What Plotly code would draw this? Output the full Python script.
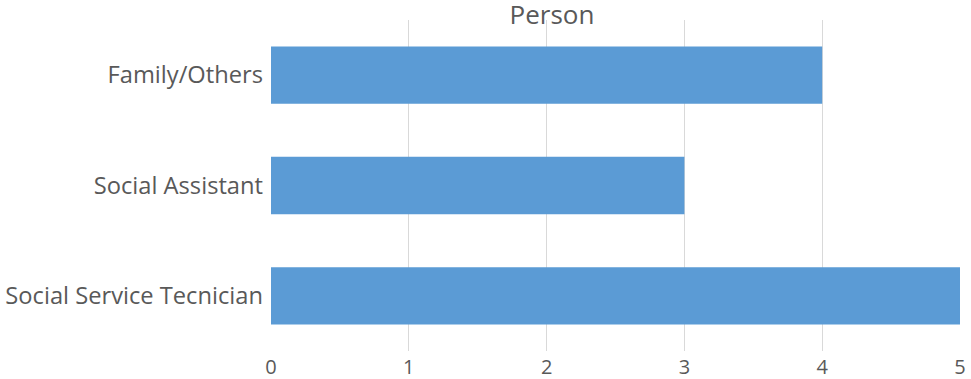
import plotly.graph_objects as go

categories = ["Social Service Tecnician", "Social Assistant", "Family/Others"]
values = [5, 3, 4]
x_ticks = [0, 1, 2, 3, 4, 5]

fig = go.Figure(go.Bar(
    y=categories, x=values, orientation="h",
    marker=dict(color="#5b9bd5", line=dict(width=0)),
    width=0.52,
))

fig.update_layout(
    width=971, height=379,
    margin=dict(l=271, r=11, t=20, b=28),
    paper_bgcolor="white", plot_bgcolor="white",
    font=dict(family="Open Sans", color="#595959", size=20),
    title=dict(text="Person", x=552/971, xanchor="center", y=1 - 6/379, yanchor="top",
               font=dict(size=26, color="#595959")),
    showlegend=False,
)
fig.update_xaxes(range=[0, 5], tickvals=x_ticks, showgrid=True, gridcolor="#d9d9d9", gridwidth=1,
                 zeroline=False, showline=False, ticks="", ticklabelstandoff=2,
                 tickfont=dict(size=20), automargin=False)
fig.update_yaxes(categoryorder="array", categoryarray=categories, showgrid=False, zeroline=False,
                 showline=False, ticks="", ticklabelstandoff=7, tickfont=dict(size=23.7),
                 automargin=False)

fig.write_html("out.html")
